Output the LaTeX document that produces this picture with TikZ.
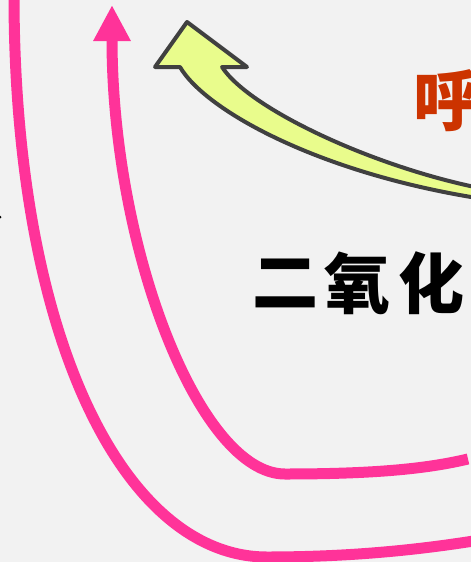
\documentclass[tikz,border=0pt]{standalone}
\usepackage{fontspec}
\newfontfamily\cjk{Noto Sans CJK SC}
\usetikzlibrary{arrows.meta}
\definecolor{bg}{HTML}{F2F2F2}
\definecolor{pinkline}{HTML}{FF3399}
\definecolor{arrowfill}{HTML}{E9FC8C}
\definecolor{arrowedge}{HTML}{404040}
\definecolor{redtext}{HTML}{CC3300}
\tikzset{
  flow/.style={draw=pinkline, line width=11pt},
  bigarrow/.style={draw=arrowedge, fill=arrowfill, line width=4pt, line join=round},
  cjktext/.style={font=\cjk\bfseries\fontsize{66}{66}\selectfont, inner sep=0pt}
}
\begin{document}
\begin{tikzpicture}[x=1pt,y=-1pt]
\fill[bg] (0,0) rectangle (471,562);
\useasboundingbox (0,0) rectangle (471,562);
\clip (0,0) rectangle (471,562);
% outer pink curve
\coordinate (o1) at (14,-5);
\coordinate (o2) at (267,557);
\coordinate (o3) at (480,540);
\draw[flow] (o1) .. controls (14,340) and (125,557) .. (o2)
  .. controls (360,557) and (430,548) .. (o3);
% inner pink curve with arrow
\coordinate (i1) at (468,459);
\coordinate (i2) at (285,474);
\coordinate (i3) at (112,5);
\draw[flow, -{Triangle[length=36pt,width=35pt]}] (i1) .. controls (430,468) and (380,474) .. (i2)
  .. controls (200,474) and (112,250) .. (i3);
% yellow block arrow
\path[bigarrow] (187,22) -- (247,67) -- (222,67)
  .. controls (250,110) and (380,170) .. (490,190)
  -- (490,200)
  .. controls (320,175) and (205,110) .. (180,67)
  -- (155,67) -- cycle;
% texts
\node[cjktext] (c1) at (285,283) {二};
\node[cjktext] (c2) at (357,283) {氧};
\node[cjktext] (c3) at (431,283) {化};
\node[cjktext, text=redtext] (t2) at (446,101) {呼};
\fill[black] (0,217) circle (1.5);
\end{tikzpicture}
\end{document}
